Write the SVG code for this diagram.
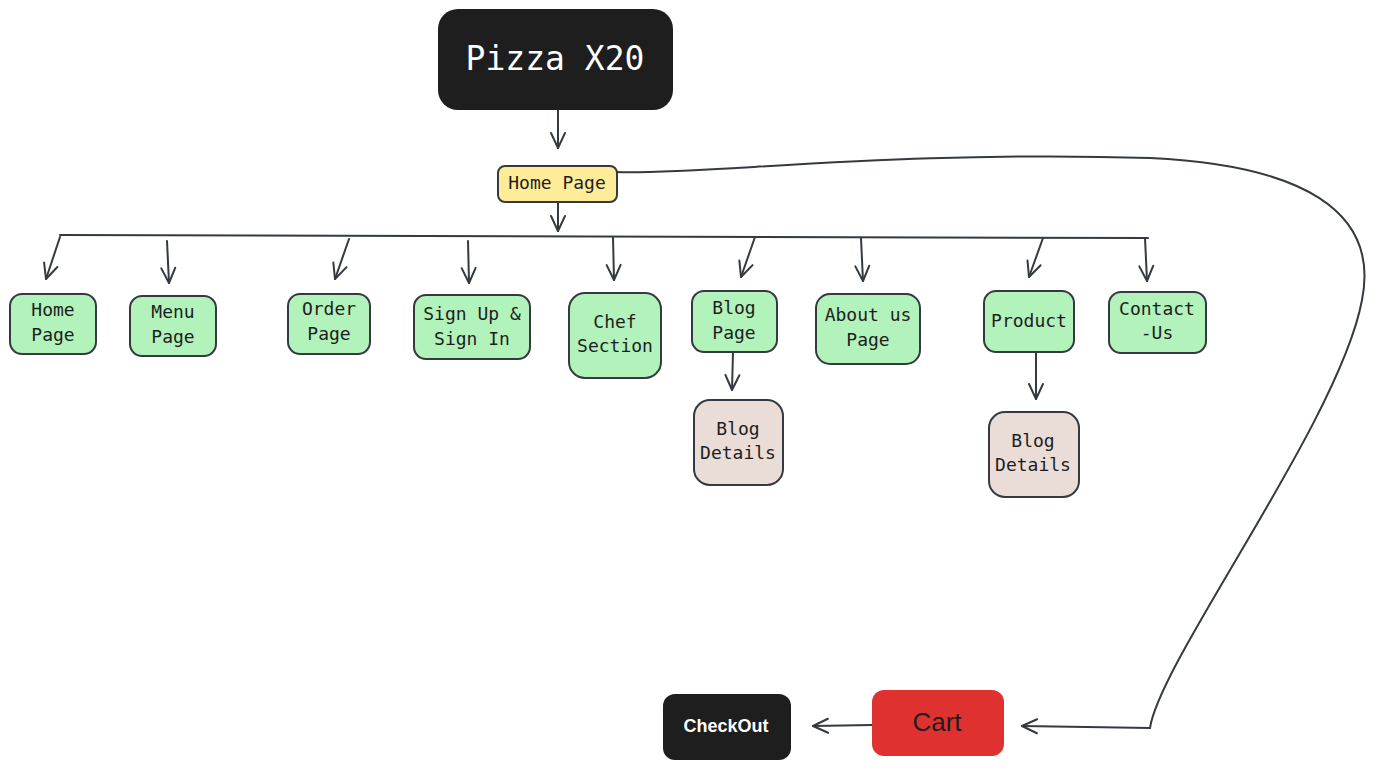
<svg xmlns="http://www.w3.org/2000/svg" width="1375" height="769" viewBox="0 0 1375 769">
<style>
.g{fill:#b2f2bb;stroke:#343a40;stroke-width:2}
.b{fill:#eaddd7;stroke:#343a40;stroke-width:2}
.t{font-family:"DejaVu Sans Mono","Liberation Mono",monospace;font-size:18px;fill:#1e1e1e;text-anchor:middle}
.c{fill:none;stroke:#343a40;stroke-width:2;stroke-linecap:round}
</style>
<defs>
<marker id="ah" viewBox="0 0 20 20" refX="18" refY="10" markerWidth="20" markerHeight="20" markerUnits="userSpaceOnUse" orient="auto">
<path d="M3,3 L18,10 L3,17" fill="none" stroke="#343a40" stroke-width="2" stroke-linecap="round" stroke-linejoin="round"/>
</marker>
</defs>
<rect width="1375" height="769" fill="#ffffff"/>
<g id="connectors">
<path class="c" d="M558,110 L558,148" marker-end="url(#ah)"/>
<path class="c" d="M558,202 L558,231" marker-end="url(#ah)"/>
<path class="c" d="M60,235 L1148,238"/>
<path class="c" d="M60,237 L46,279" marker-end="url(#ah)"/>
<path class="c" d="M167,241 L169,283" marker-end="url(#ah)"/>
<path class="c" d="M349,239 L335,279" marker-end="url(#ah)"/>
<path class="c" d="M468,241 L469,283" marker-end="url(#ah)"/>
<path class="c" d="M613,237 L614,280" marker-end="url(#ah)"/>
<path class="c" d="M755,237 L741,277" marker-end="url(#ah)"/>
<path class="c" d="M861,238 L863,281" marker-end="url(#ah)"/>
<path class="c" d="M1043,238 L1029,277" marker-end="url(#ah)"/>
<path class="c" d="M1145,238 L1147,281" marker-end="url(#ah)"/>
<path class="c" d="M733,352 L732,390" marker-end="url(#ah)"/>
<path class="c" d="M1036,352 L1036,399" marker-end="url(#ah)"/>
<path class="c" d="M617,172 C700,175 900,150 1150,158 C1300,165 1380,210 1362,300 C1340,420 1160,660 1150,728 L1022,726" marker-end="url(#ah)"/>
<path class="c" d="M872,725 L813,726" marker-end="url(#ah)"/>
</g>
<g id="pizza">
<rect x="438" y="9" width="235" height="101" rx="20" fill="#1e1e1e"/>
<text x="555" y="70" text-anchor="middle" font-family="DejaVu Sans Mono, Liberation Mono, monospace" font-size="33" fill="#ffffff">Pizza X20</text>
</g>
<g id="home-main">
<rect x="498" y="166" width="119" height="36" rx="7" fill="#ffec99" stroke="#343a40" stroke-width="2"/>
<text class="t" x="557" y="189">Home Page</text>
</g>
<g id="home"><rect class="g" x="10" y="294" width="86" height="60" rx="12"/><text class="t" x="53" y="316">Home</text><text class="t" x="53" y="341">Page</text></g>
<g id="menu"><rect class="g" x="130" y="296" width="86" height="60" rx="12"/><text class="t" x="173" y="318">Menu</text><text class="t" x="173" y="343">Page</text></g>
<g id="order"><rect class="g" x="288" y="294" width="82" height="60" rx="12"/><text class="t" x="329" y="315">Order</text><text class="t" x="329" y="340">Page</text></g>
<g id="signup"><rect class="g" x="414" y="295" width="116" height="64" rx="12"/><text class="t" x="472" y="320">Sign Up &amp;</text><text class="t" x="472" y="345">Sign In</text></g>
<g id="chef"><rect class="g" x="569" y="293" width="92" height="85" rx="16"/><text class="t" x="615" y="328">Chef</text><text class="t" x="615" y="352">Section</text></g>
<g id="blog"><rect class="g" x="692" y="291" width="85" height="61" rx="12"/><text class="t" x="734" y="314">Blog</text><text class="t" x="734" y="339">Page</text></g>
<g id="blog-details"><rect class="b" x="694" y="400" width="89" height="85" rx="16"/><text class="t" x="738" y="435">Blog</text><text class="t" x="738" y="459">Details</text></g>
<g id="about"><rect class="g" x="816" y="294" width="104" height="70" rx="14"/><text class="t" x="868" y="321">About us</text><text class="t" x="868" y="346">Page</text></g>
<g id="product"><rect class="g" x="984" y="291" width="90" height="61" rx="12"/><text class="t" x="1029" y="327">Product</text></g>
<g id="product-details"><rect class="b" x="989" y="412" width="90" height="85" rx="16"/><text class="t" x="1033" y="447">Blog</text><text class="t" x="1033" y="471">Details</text></g>
<g id="contact"><rect class="g" x="1109" y="292" width="97" height="61" rx="12"/><text class="t" x="1157" y="315">Contact</text><text class="t" x="1157" y="339">-Us</text></g>
<g id="cart">
<rect x="872" y="690" width="132" height="66" rx="12" fill="#e03131"/>
<text x="937" y="731" text-anchor="middle" font-family="Liberation Sans, sans-serif" font-size="26" fill="#1e1e1e">Cart</text>
</g>
<g id="checkout">
<rect x="663" y="694" width="128" height="66" rx="12" fill="#1e1e1e"/>
<text x="726" y="732" text-anchor="middle" font-family="Liberation Sans, sans-serif" font-size="18" font-weight="bold" fill="#ffffff">CheckOut</text>
</g>
</svg>
